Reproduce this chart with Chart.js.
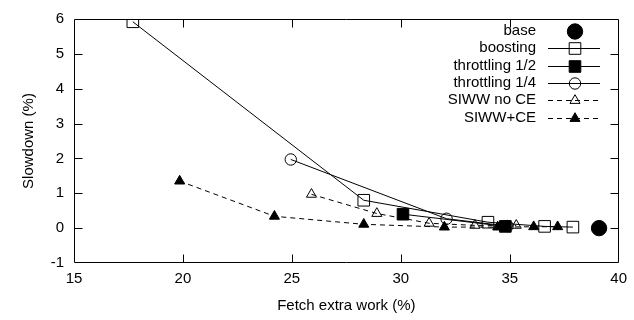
<!DOCTYPE html>
<html>
<head>
<meta charset="utf-8">
<script src="https://cdn.jsdelivr.net/npm/chart.js@4/dist/chart.umd.min.js"></script>
<style>
	body { margin: 0; background: #fff; }
	#wrap { width: 634px; height: 320px; }
</style>
</head>
<body>
<div id="wrap"><canvas id="chart" width="634" height="320"></canvas></div>
<script>
// data
var xTicks = [15, 20, 25, 30, 35, 40];
var yTicks = [-1, 0, 1, 2, 3, 4, 5, 6];

var names = ["base", "boosting", "throttling 1/2", "throttling 1/4", "SIWW no CE", "SIWW+CE"];

var baseX = [39.1];
var baseY = [0];
var boostX = [17.7, 28.3, 34.0, 36.6, 37.9];
var boostY = [5.92, 0.8, 0.17, 0.05, 0.03];
var thr2X = [30.1, 34.8];
var thr2Y = [0.4, 0.05];
var thr4X = [24.95, 32.1, 34.9];
var thr4Y = [1.97, 0.27, 0.06];
var siwwX = [25.9, 28.9, 31.3, 33.4, 35.3];
var siwwY = [0.97, 0.42, 0.14, 0.08, 0.08];
var siwwCeX = [19.85, 24.2, 28.3, 32.0, 34.45, 36.1, 37.2];
var siwwCeY = [1.35, 0.34, 0.11, 0.03, 0.03, 0.04, 0.04];

function pts(xs, ys) {
	var out = [];
	for(var i=0; i<xs.length; i++) out.push({x: xs[i], y: ys[i]});
	return out;
}

var FONT = '"Liberation Sans", Arial, Helvetica, sans-serif';
var CLEAR = 'rgba(0,0,0,0)';

function ds(i, xs, ys, style, radius, fill, line, dash) {
	return {
		label: names[i],
		data: pts(xs, ys),
		showLine: line,
		borderColor: '#000',
		borderWidth: 1,
		borderDash: dash || [],
		pointStyle: style,
		pointRadius: radius,
		pointBorderWidth: 1,
		pointBorderColor: '#000',
		pointBackgroundColor: fill ? '#000' : CLEAR,
		backgroundColor: fill ? '#000' : CLEAR
	};
}

var datasets = [
	ds(0, baseX, baseY, 'circle', 7.7, true, false),
	ds(1, boostX, boostY, 'rect', 8.2, false, true),
	ds(2, thr2X, thr2Y, 'rect', 8.2, true, true),
	ds(3, thr4X, thr4Y, 'circle', 5.7, false, true),
	ds(4, siwwX, siwwY, 'triangle', 5.8, false, true, [5, 4]),
	ds(5, siwwCeX, siwwCeY, 'triangle', 5.8, true, true, [5, 4])
];

// frame + inward ticks (gnuplot style, mirrored)
var framePlugin = {
	id: 'frame',
	afterDatasetsDraw: function(chart) {
		var c = chart.ctx, a = chart.chartArea;
		var sx = chart.scales.x, sy = chart.scales.y;
		var L = Math.round(a.left) + 0.5, R = Math.round(a.right) - 0.5;
		var T = Math.round(a.top) + 0.5, B = Math.round(a.bottom) - 0.5;
		var len = 8;
		c.save();
		c.strokeStyle = '#000';
		c.lineWidth = 1;
		c.setLineDash([]);
		c.beginPath();
		c.rect(L, T, R - L, B - T);
		for(var i=1; i<xTicks.length-1; i++) {
			var px = Math.round(sx.getPixelForValue(xTicks[i])) + 0.5;
			c.moveTo(px, B); c.lineTo(px, B - len);
			c.moveTo(px, T); c.lineTo(px, T + len);
		}
		for(var j=1; j<yTicks.length-1; j++) {
			var py = Math.round(sy.getPixelForValue(yTicks[j])) + 0.5;
			c.moveTo(L, py); c.lineTo(L + len, py);
			c.moveTo(R, py); c.lineTo(R - len, py);
		}
		c.stroke();
		c.restore();
	}
};

// key box top right
var keyPlugin = {
	id: 'key',
	afterDraw: function(chart) {
		var c = chart.ctx;
		var textX = 536, lineA = 548, lineB = 600, markX = 575;
		c.save();
		c.font = '15px ' + FONT;
		c.textAlign = 'right';
		c.textBaseline = 'middle';
		c.fillStyle = '#000';
		chart.data.datasets.forEach(function(d, i) {
			var y = 31 + i * 17.3;
			c.fillText(d.label, textX, y);
			if(d.showLine) {
				c.beginPath();
				c.strokeStyle = '#000';
				c.lineWidth = 1;
				c.setLineDash(d.borderDash);
				c.moveTo(lineA, Math.round(y) + 0.5);
				c.lineTo(lineB, Math.round(y) + 0.5);
				c.stroke();
				c.setLineDash([]);
			}
			c.strokeStyle = '#000';
			c.fillStyle = d.pointBackgroundColor;
			Chart.helpers.drawPoint(c, {
				pointStyle: d.pointStyle,
				radius: d.pointRadius,
				rotation: 0,
				borderWidth: 1
			}, markX, Math.round(y) + 0.5);
			c.fillStyle = '#000';
		});
		c.restore();
	}
};

Chart.defaults.font.family = FONT;
Chart.defaults.font.size = 15;
Chart.defaults.color = '#000';

var chart = new Chart(document.getElementById("chart"), {
	type: 'scatter',
	data: { datasets: datasets },
	options: {
		responsive: false,
		animation: false,
		layout: { padding: { top: 12, right: 11, left: 0, bottom: 0 } },
		plugins: {
			legend: { display: false },
			tooltip: { enabled: false }
		},
		scales: {
			x: {
				type: 'linear',
				min: 15,
				max: 40,
				afterFit: function(s) { s.height = 57; },
				afterBuildTicks: function(s) { s.ticks = xTicks.map(function(v) { return {value: v}; }); },
				grid: { display: false, drawTicks: false },
				border: { display: false },
				ticks: { padding: 7, maxRotation: 0 },
				title: { display: true, text: 'Fetch extra work (%)', padding: { top: 0, bottom: 5 } }
			},
			y: {
				type: 'linear',
				min: -1,
				max: 6,
				afterFit: function(s) { s.width = 74; },
				afterBuildTicks: function(s) { s.ticks = yTicks.map(function(v) { return {value: v}; }); },
				grid: { display: false, drawTicks: false },
				border: { display: false },
				ticks: { padding: 10 },
				title: { display: true, text: 'Slowdown (%)', padding: { top: 20, bottom: 0 } }
			}
		}
	},
	plugins: [framePlugin, keyPlugin]
});
</script>
</body>
</html>
